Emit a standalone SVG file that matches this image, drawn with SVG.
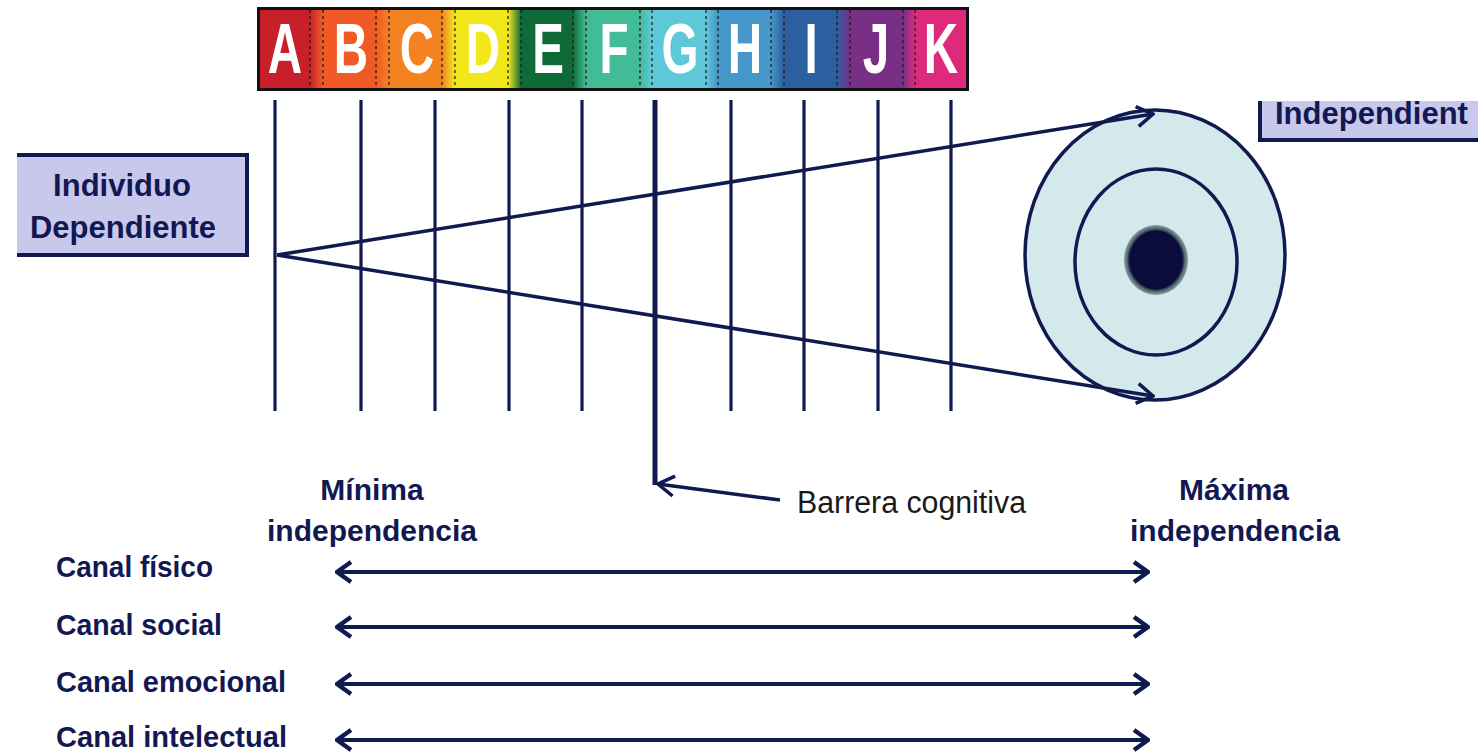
<svg xmlns="http://www.w3.org/2000/svg" width="1478" height="753" viewBox="0 0 1478 753">
<style>
.ln{stroke:#111a50;fill:none;stroke-width:3.5}
.vl{stroke:#111a50;stroke-width:3.2}
.dash{stroke:#1a1a1a;stroke-width:1.2;stroke-dasharray:3 3}
.let{font-family:"Liberation Sans",Arial,sans-serif;font-weight:bold;font-size:70px;fill:#fff;text-anchor:middle}
.bt{font-family:"Liberation Sans",Arial,sans-serif;font-weight:bold;fill:#121852}
.lab{font-family:"Liberation Sans",Arial,sans-serif;font-weight:bold;font-size:30px;fill:#121852}
.nt{font-family:"Liberation Sans",Arial,sans-serif;font-size:31px;fill:#1a1a1a}
.dbl{stroke:#111a50;stroke-width:4;fill:none}
</style>
<defs>
<linearGradient id="bar" gradientUnits="userSpaceOnUse" x1="259" y1="0" x2="967" y2="0">
<stop offset="0" stop-color="#c8202a"/><stop offset="0.072" stop-color="#c8202a"/>
<stop offset="0.090" stop-color="#f15a24"/><stop offset="0.165" stop-color="#f15a24"/>
<stop offset="0.184" stop-color="#f58220"/><stop offset="0.258" stop-color="#f58220"/>
<stop offset="0.277" stop-color="#f2e71a"/><stop offset="0.352" stop-color="#f2e71a"/>
<stop offset="0.370" stop-color="#0e6b37"/><stop offset="0.443" stop-color="#0e6b37"/>
<stop offset="0.462" stop-color="#41bc96"/><stop offset="0.538" stop-color="#41bc96"/>
<stop offset="0.555" stop-color="#5ec8d8"/><stop offset="0.631" stop-color="#5ec8d8"/>
<stop offset="0.648" stop-color="#4598c9"/><stop offset="0.723" stop-color="#4598c9"/>
<stop offset="0.741" stop-color="#2c5fa0"/><stop offset="0.816" stop-color="#2c5fa0"/>
<stop offset="0.835" stop-color="#7a2f87"/><stop offset="0.910" stop-color="#7a2f87"/>
<stop offset="0.927" stop-color="#dd2a7b"/><stop offset="1" stop-color="#dd2a7b"/>
</linearGradient>
<radialGradient id="dot" cx="0.5" cy="0.5" r="0.5">
<stop offset="0" stop-color="#0c0c3a"/><stop offset="0.82" stop-color="#0c0c3a"/><stop offset="0.9" stop-color="#50686e"/><stop offset="1" stop-color="#8aa2a4"/>
</radialGradient>
<marker id="ah" viewBox="0 0 20 24" refX="18" refY="12" markerWidth="20" markerHeight="24" markerUnits="userSpaceOnUse" orient="auto-start-reverse">
<path d="M2,2 L18,12 L2,22" fill="none" stroke="#111a50" stroke-width="3.5"/>
</marker>
<marker id="ah2" viewBox="0 0 18 24" refX="16" refY="12" markerWidth="18" markerHeight="24" markerUnits="userSpaceOnUse" orient="auto-start-reverse">
<path d="M2,2 L16,12 L2,22" fill="none" stroke="#111a50" stroke-width="4.5"/>
</marker>
</defs>
<rect width="1478" height="753" fill="#fff"/>

<g id="scale-bar">
<rect x="258.5" y="8.5" width="709" height="81" fill="url(#bar)" stroke="#111" stroke-width="3"/>
<line class="dash" x1="310" y1="10" x2="310" y2="88"/><line class="dash" x1="323" y1="10" x2="323" y2="88"/>
<line class="dash" x1="376" y1="10" x2="376" y2="88"/><line class="dash" x1="389" y1="10" x2="389" y2="88"/>
<line class="dash" x1="442" y1="10" x2="442" y2="88"/><line class="dash" x1="455" y1="10" x2="455" y2="88"/>
<line class="dash" x1="508" y1="10" x2="508" y2="88"/><line class="dash" x1="521" y1="10" x2="521" y2="88"/>
<line class="dash" x1="573" y1="10" x2="573" y2="88"/><line class="dash" x1="586" y1="10" x2="586" y2="88"/>
<line class="dash" x1="640" y1="10" x2="640" y2="88"/><line class="dash" x1="652" y1="10" x2="652" y2="88"/>
<line class="dash" x1="706" y1="10" x2="706" y2="88"/><line class="dash" x1="718" y1="10" x2="718" y2="88"/>
<line class="dash" x1="771" y1="10" x2="771" y2="88"/><line class="dash" x1="784" y1="10" x2="784" y2="88"/>
<line class="dash" x1="837" y1="10" x2="837" y2="88"/><line class="dash" x1="850" y1="10" x2="850" y2="88"/>
<line class="dash" x1="903" y1="10" x2="903" y2="88"/><line class="dash" x1="915" y1="10" x2="915" y2="88"/>
<text class="let" transform="translate(285,73) scale(0.68,1)">A</text>
<text class="let" transform="translate(351,73) scale(0.68,1)">B</text>
<text class="let" transform="translate(417,73) scale(0.68,1)">C</text>
<text class="let" transform="translate(483,73) scale(0.68,1)">D</text>
<text class="let" transform="translate(548,73) scale(0.68,1)">E</text>
<text class="let" transform="translate(614,73) scale(0.68,1)">F</text>
<text class="let" transform="translate(680,73) scale(0.68,1)">G</text>
<text class="let" transform="translate(745,73) scale(0.68,1)">H</text>
<text class="let" transform="translate(811,73) scale(0.68,1)">I</text>
<text class="let" transform="translate(876,73) scale(0.68,1)">J</text>
<text class="let" transform="translate(941,73) scale(0.68,1)">K</text>
</g>

<g id="grid-lines">
<line class="vl" x1="275" y1="100" x2="275" y2="411"/>
<line class="vl" x1="361" y1="100" x2="361" y2="411"/>
<line class="vl" x1="435" y1="100" x2="435" y2="411"/>
<line class="vl" x1="509" y1="100" x2="509" y2="411"/>
<line class="vl" x1="582" y1="100" x2="582" y2="411"/>
<line x1="655" y1="100" x2="655" y2="485" stroke="#111a50" stroke-width="5"/>
<line class="vl" x1="731" y1="100" x2="731" y2="411"/>
<line class="vl" x1="804" y1="100" x2="804" y2="411"/>
<line class="vl" x1="878" y1="100" x2="878" y2="411"/>
<line class="vl" x1="951" y1="100" x2="951" y2="411"/>
</g>

<g id="target">
<ellipse cx="1155" cy="255" rx="130" ry="145" fill="#d3e9ec" stroke="#111a50" stroke-width="3.5"/>
<ellipse cx="1156" cy="262" rx="81" ry="93" fill="none" stroke="#111a50" stroke-width="3.5"/>
<ellipse cx="1156" cy="260" rx="32" ry="35" fill="url(#dot)"/>
</g>

<g id="individuo-dependiente">
<rect x="17" y="155" width="230" height="100" fill="#c8c8ec"/>
<path d="M17,155 H247 V255 H17" fill="none" stroke="#111a50" stroke-width="4"/>
<text class="bt" x="122" y="196" font-size="31" text-anchor="middle">Individuo</text>
<text class="bt" x="123" y="238" font-size="31" text-anchor="middle">Dependiente</text>
</g>

<g id="independiente">
<rect x="1260" y="101" width="218" height="40" fill="#c8c8ec"/>
<path d="M1260,101 V140 H1478" fill="none" stroke="#111a50" stroke-width="4"/>
<text class="bt" x="1275" y="124" font-size="31">Independient</text>
</g>

<g id="connectors">
<line class="ln" x1="277" y1="255" x2="1153" y2="114" marker-end="url(#ah)"/>
<line class="ln" x1="277" y1="255" x2="1153" y2="396" marker-end="url(#ah)"/>
<line class="ln" x1="780" y1="500" x2="658" y2="484" marker-end="url(#ah)"/>
<line class="dbl" x1="337" y1="572" x2="1148" y2="572" marker-start="url(#ah2)" marker-end="url(#ah2)"/>
<line class="dbl" x1="337" y1="627" x2="1148" y2="627" marker-start="url(#ah2)" marker-end="url(#ah2)"/>
<line class="dbl" x1="337" y1="684" x2="1148" y2="684" marker-start="url(#ah2)" marker-end="url(#ah2)"/>
<line class="dbl" x1="337" y1="740" x2="1148" y2="740" marker-start="url(#ah2)" marker-end="url(#ah2)"/>
</g>

<g id="labels">
<text class="nt" x="797" y="513" textLength="229" lengthAdjust="spacingAndGlyphs">Barrera cognitiva</text>
<text class="bt" x="372" y="500" font-size="30" text-anchor="middle">Mínima</text>
<text class="bt" x="372" y="541" font-size="30" text-anchor="middle">independencia</text>
<text class="bt" x="1234" y="500" font-size="30" text-anchor="middle">Máxima</text>
<text class="bt" x="1235" y="541" font-size="30" text-anchor="middle">independencia</text>
<text class="lab" x="56" y="577" textLength="157" lengthAdjust="spacingAndGlyphs">Canal físico</text>
<text class="lab" x="56" y="635" textLength="166" lengthAdjust="spacingAndGlyphs">Canal social</text>
<text class="lab" x="56" y="692" textLength="230" lengthAdjust="spacingAndGlyphs">Canal emocional</text>
<text class="lab" x="56" y="747" textLength="231" lengthAdjust="spacingAndGlyphs">Canal intelectual</text>
</g>
</svg>
